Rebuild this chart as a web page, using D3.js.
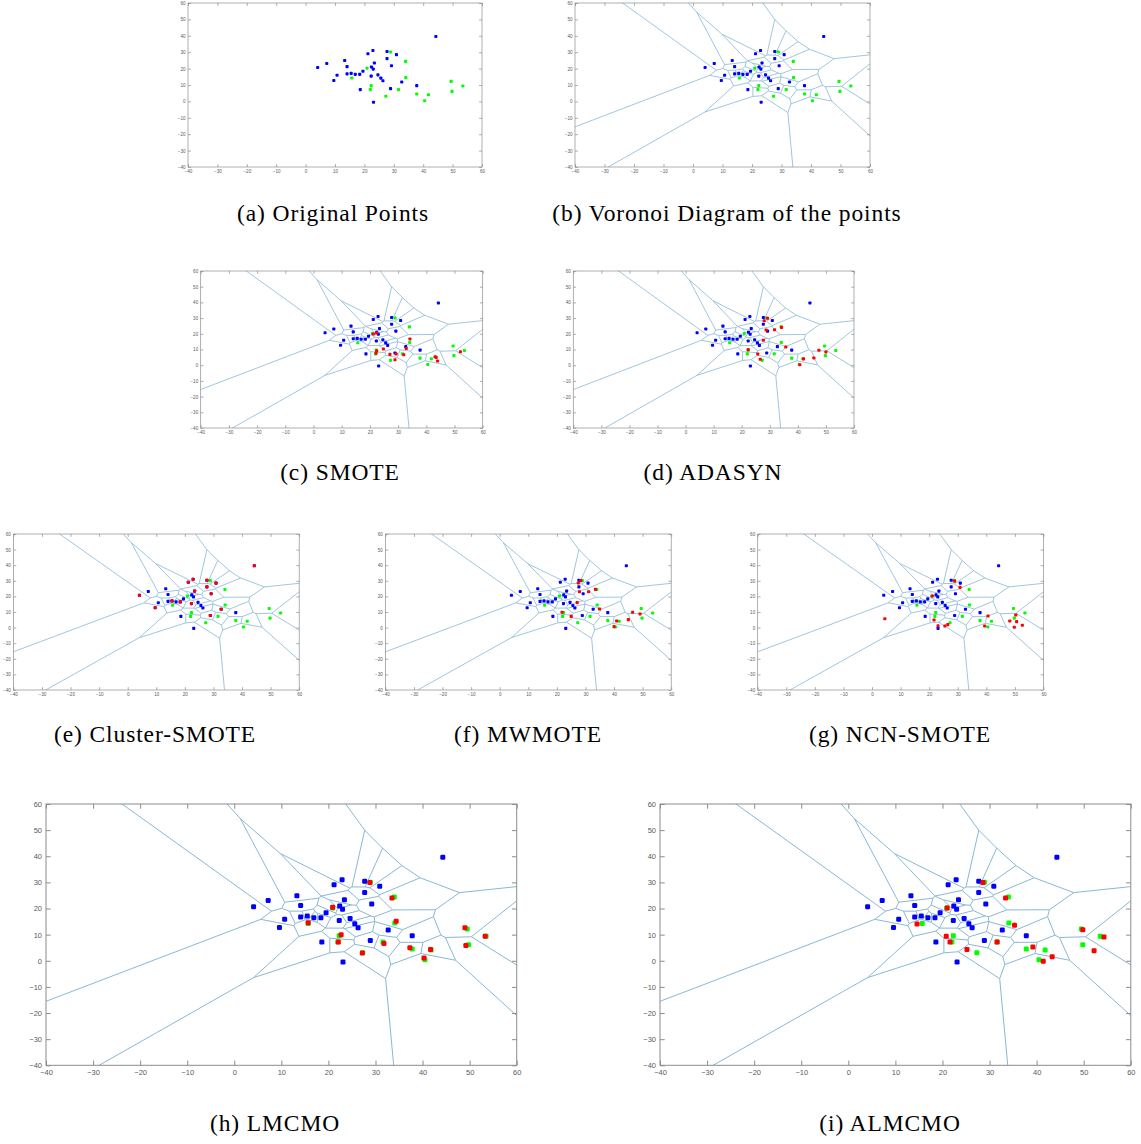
<!DOCTYPE html>
<html>
<head>
<meta charset="utf-8">
<script src="https://cdn.jsdelivr.net/npm/d3@7"></script>
<style>
  html, body { margin: 0; padding: 0; background: #ffffff; }
  svg { display: block; }
</style>
</head>
<body>
<svg id="fig" width="1141" height="1144"></svg>
<script>
// ---------------- DATA ----------------
const tickValues = [-40, -30, -20, -10, 0, 10, 20, 30, 40, 50, 60];

// original majority (blue) points
const bluePoints = [
  [4.1, 20.7], [7.2, 23.1], [9.6, 12.7], [10.7, 15.9], [13.3, 24.9],
  [14.1, 21.2], [14.1, 16.8], [15.5, 17.1], [16.9, 16.5], [18.4, 16.5],
  [19.5, 18.4], [18.6, 7.2], [21.2, 29.1], [22.9, 31.0], [22.4, 21.0],
  [23.0, 19.7], [23.4, 23.4], [22.3, 15.4], [24.6, 16.2], [25.6, 14.2],
  [26.3, 12.6], [23.1, -0.5], [27.7, 30.4], [27.7, 26.1], [30.9, 28.5],
  [29.2, 21.7], [28.9, 7.8], [32.7, 11.8], [37.8, 9.6], [44.3, 39.6]
];

// original minority (green) points
const greenPoints = [
  [20.9, 20.2], [15.7, 14.3], [22.3, 9.6], [22.0, 7.2], [28.9, 30.1],
  [34.0, 24.4], [34.1, 14.5], [31.6, 7.2], [27.3, 3.1], [37.8, 4.5],
  [40.5, 0.4], [41.8, 4.1], [49.5, 12.2], [49.8, 6.1], [53.5, 9.4]
];

// synthetic (red) points per method
const redSMOTE = [
  [21.2, 19.9], [22.4, 20.5], [24.8, 10.3], [22.4, 9.2], [22.2, 7.6],
  [27.1, 6.9], [29.3, 7.1], [28.9, 3.5], [32.0, 6.7], [32.9, 10.6],
  [34.2, 16.7], [43.1, 5.4], [43.5, 5.0], [44.0, 2.7], [52.1, 8.6]
];
const redADASYN = [
  [29.2, 29.9], [28.0, 28.3], [28.7, 22.4], [31.7, 22.6], [34.2, 24.1],
  [27.7, 15.9], [35.7, 11.6], [22.3, 9.9], [25.7, 7.1], [26.6, 3.8],
  [45.7, 4.6], [47.5, 9.5], [50.0, 8.4], [42.0, 4.0], [40.7, 0.3]
];
const redClusterSMOTE = [
  [44.3, 39.6], [4.1, 20.7], [9.6, 12.7], [21.2, 29.1], [22.9, 31.0],
  [27.7, 30.4], [30.9, 28.5], [27.7, 26.1], [23.4, 23.4], [29.2, 21.7],
  [15.5, 17.1], [18.4, 16.5], [22.3, 15.4], [32.7, 11.8], [28.9, 7.8]
];
const redMWMOTE = [
  [28.4, 30.1], [27.5, 28.6], [27.9, 23.0], [31.1, 23.0], [33.5, 24.5],
  [27.1, 16.0], [34.9, 11.9], [21.8, 9.8], [25.0, 7.2], [40.9, 4.2],
  [40.0, 0.6], [45.0, 5.1], [46.5, 9.8], [49.1, 8.7]
];
const redNCNSMOTE = [
  [28.9, 29.8], [30.8, 25.8], [21.1, 20.3], [4.5, 5.7], [21.7, 4.9],
  [23.1, 1.2], [25.5, 1.0], [26.5, 1.9], [40.6, 7.4], [39.4, 1.0],
  [48.2, 4.2], [50.3, 8.1], [50.6, 3.8], [49.8, 0.2], [52.6, 1.5]
];
const redLMCMO = [
  [28.8, 30.0], [33.5, 24.0], [20.9, 20.5], [15.7, 14.6], [34.4, 15.1],
  [22.7, 10.0], [22.1, 7.2], [31.8, 6.6], [27.2, 3.0], [37.3, 5.0],
  [41.7, 4.3], [40.3, 1.1], [49.0, 12.6], [49.2, 5.8], [53.3, 9.4]
];
const redALMCMO = [
  [28.6, 30.0], [33.4, 24.0], [21.0, 20.2], [14.6, 14.1], [35.3, 13.6],
  [20.8, 9.4], [21.6, 7.2], [31.6, 7.2], [25.2, 4.3], [39.2, 5.3],
  [43.3, 1.5], [41.4, -0.2], [49.8, 11.9], [52.2, 3.8], [54.3, 9.1]
];

const captions = [
  "(a) Original Points", "(b) Voronoi Diagram of the points", "(c) SMOTE",
  "(d) ADASYN", "(e) Cluster-SMOTE", "(f) MWMOTE", "(g) NCN-SMOTE",
  "(h) LMCMO", "(i) ALMCMO"
];
const redSets = [null, null, redSMOTE, redADASYN, redClusterSMOTE, redMWMOTE,
                 redNCNSMOTE, redLMCMO, redALMCMO];

// ---------------- LAYOUT (not data) ----------------
const layout = [
  {l: 188,   t: 3,   w: 294,   h: 164, vor: false, cx: 333, cy: 221, big: false},
  {l: 575,   t: 3,   w: 295,   h: 164, vor: true,  cx: 727, cy: 221, big: false},
  {l: 200.7, t: 271, w: 282,   h: 157, vor: true,  cx: 340, cy: 480, big: false},
  {l: 573.3, t: 271, w: 280.7, h: 157, vor: true,  cx: 713, cy: 480, big: false},
  {l: 13.4,  t: 534, w: 285.8, h: 156, vor: true,  cx: 155, cy: 742, big: false},
  {l: 385.4, t: 534, w: 285.8, h: 156, vor: true,  cx: 528, cy: 742, big: false},
  {l: 757.7, t: 534, w: 285.8, h: 156, vor: true,  cx: 900, cy: 742, big: false},
  {l: 46,    t: 804, w: 470.7, h: 261.3, vor: true, cx: 275, cy: 1131, big: true},
  {l: 660,   t: 804, w: 470.8, h: 261.3, vor: true, cx: 890, cy: 1131, big: true}
];

const svg = d3.select("#fig");
const allOriginal = bluePoints.concat(greenPoints);
const delaunay = d3.Delaunay.from(allOriginal, d => d[0], d => d[1]);
const voronoi = delaunay.voronoi([-2000, -2000, 2000, 2000]);

layout.forEach((L, i) => {
  const x = d3.scaleLinear().domain([-40, 60]).range([L.l, L.l + L.w]);
  const y = d3.scaleLinear().domain([-40, 60]).range([L.t + L.h, L.t]);
  const g = svg.append("g");
  const fs = L.big ? 7.5 : 4.6;
  const tickLen = L.w * 0.01;
  const ms = L.big ? 5 : 3.1;

  const clipId = "clip" + i;
  svg.append("clipPath").attr("id", clipId)
    .append("rect").attr("x", L.l).attr("y", L.t).attr("width", L.w).attr("height", L.h);

  // Voronoi
  if (L.vor) {
    const p = d3.path();
    const ctx = {
      moveTo: (a, b) => p.moveTo(x(a), y(b)),
      lineTo: (a, b) => p.lineTo(x(a), y(b)),
      closePath: () => p.closePath()
    };
    voronoi.render(ctx);
    g.append("path").attr("d", p.toString())
      .attr("clip-path", `url(#${clipId})`)
      .attr("fill", "none")
      .attr("stroke", "#88b8d4")
      .attr("stroke-width", L.big ? 1.0 : 0.8);
  }

  // Axes (box)
  const axisColor = "#8c8c8c";
  g.append("rect").attr("x", L.l).attr("y", L.t).attr("width", L.w).attr("height", L.h)
    .attr("fill", "none").attr("stroke", axisColor).attr("stroke-width", L.big ? 1 : 0.7);

  const xAxisB = d3.axisBottom(x).tickValues(tickValues).tickSize(-tickLen).tickPadding(L.big ? 4 : 2.5);
  const xAxisT = d3.axisTop(x).tickValues(tickValues).tickSize(-tickLen).tickFormat("");
  const yAxisL = d3.axisLeft(y).tickValues(tickValues).tickSize(-tickLen).tickPadding(L.big ? 4 : 2.5);
  const yAxisR = d3.axisRight(y).tickValues(tickValues).tickSize(-tickLen).tickFormat("");

  const styleAxis = sel => {
    sel.select(".domain").remove();
    sel.selectAll(".tick line").attr("stroke", axisColor).attr("stroke-width", L.big ? 1 : 0.7);
    sel.selectAll(".tick text").attr("fill", "#5a5a5a").attr("font-size", fs)
      .attr("font-family", "'Liberation Sans', Arial, sans-serif");
  };
  g.append("g").attr("transform", `translate(0,${L.t + L.h})`).call(xAxisB).call(styleAxis);
  g.append("g").attr("transform", `translate(0,${L.t})`).call(xAxisT).call(styleAxis);
  g.append("g").attr("transform", `translate(${L.l},0)`).call(yAxisL).call(styleAxis);
  g.append("g").attr("transform", `translate(${L.l + L.w},0)`).call(yAxisR).call(styleAxis);

  // points
  const drawPts = (data, color) => {
    g.append("g").selectAll("rect").data(data).enter().append("rect")
      .attr("x", d => x(d[0]) - ms / 2).attr("y", d => y(d[1]) - ms / 2)
      .attr("width", ms).attr("height", ms).attr("rx", ms * 0.25)
      .attr("fill", color);
  };
  drawPts(bluePoints, "#0000ff");
  drawPts(greenPoints, "#00ff00");
  if (redSets[i]) drawPts(redSets[i], "#ff0000");

  // caption
  svg.append("text").attr("x", L.cx).attr("y", L.cy)
    .attr("text-anchor", "middle")
    .attr("font-family", "'Liberation Serif', 'Times New Roman', serif")
    .attr("font-size", 23.5)
    .attr("letter-spacing", 0.9)
    .attr("fill", "#000")
    .text(captions[i]);
});
</script>
</body>
</html>
